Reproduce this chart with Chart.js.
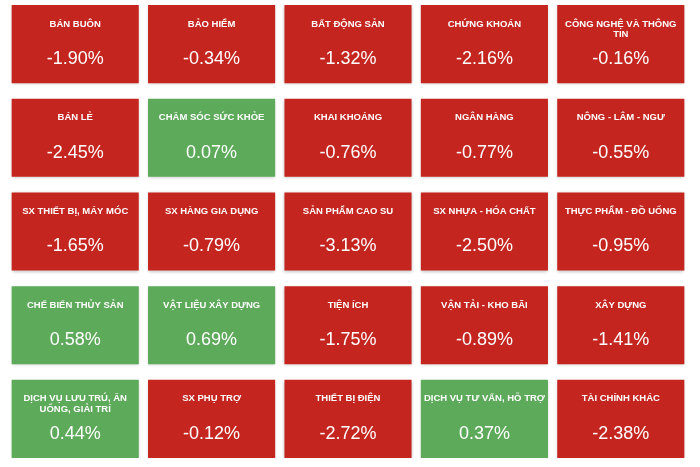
<!DOCTYPE html>
<html>
<head>
<meta charset="utf-8">
<script src="https://cdn.jsdelivr.net/npm/chart.js@4.4.0/dist/chart.umd.min.js"></script>
<style>
  html, body { margin: 0; padding: 0; background: #ffffff; }
  #wrap { width: 700px; height: 467px; }
</style>
</head>
<body>
<div id="wrap"><canvas id="heat"></canvas></div>
<script>
// sectors, row by row (5 per row); "\n" marks where the title wraps
const sectors = [
  ["BÁN BUÔN", "BẢO HIỂM", "BẤT ĐỘNG SẢN", "CHỨNG KHOÁN", "CÔNG NGHỆ VÀ THÔNG\nTIN"],
  ["BÁN LẺ", "CHĂM SÓC SỨC KHỎE", "KHAI KHOÁNG", "NGÂN HÀNG", "NÔNG - LÂM - NGƯ"],
  ["SX THIẾT BỊ, MÁY MÓC", "SX HÀNG GIA DỤNG", "SẢN PHẨM CAO SU", "SX NHỰA - HÓA CHẤT", "THỰC PHẨM - ĐỒ UỐNG"],
  ["CHẾ BIẾN THỦY SẢN", "VẬT LIỆU XÂY DỰNG", "TIỆN ÍCH", "VẬN TẢI - KHO BÃI", "XÂY DỰNG"],
  ["DỊCH VỤ LƯU TRÚ, ĂN\nUỐNG, GIẢI TRÍ", "SX PHỤ TRỢ", "THIẾT BỊ ĐIỆN", "DỊCH VỤ TƯ VẤN, HỖ TRỢ", "TÀI CHÍNH KHÁC"]
];
// % change
const changes = [
  [-1.90, -0.34, -1.32, -2.16, -0.16],
  [-2.45, 0.07, -0.76, -0.77, -0.55],
  [-1.65, -0.79, -3.13, -2.50, -0.95],
  [0.58, 0.69, -1.75, -0.89, -1.41],
  [0.44, -0.12, -2.72, 0.37, -2.38]
];
const columns = ["c1", "c2", "c3", "c4", "c5"];

const RED = "#c4251f";
const GREEN = "#5daa5a";
const TILE_H = 0.834;

const datasets = changes.map(function (row, r) {
  return {
    label: "row" + (r + 1),
    data: row.map(function () { return [r, r + TILE_H]; }),
    backgroundColor: row.map(function (v) { return v >= 0 ? GREEN : RED; }),
    borderWidth: 0,
    borderSkipped: false,
    grouped: false,
    categoryPercentage: 1,
    barPercentage: 0.932
  };
});

const shadowPlugin = {
  id: "tileShadow",
  beforeDatasetsDraw(chart) {
    const ctx = chart.ctx;
    ctx.save();
    ctx.shadowColor = "rgba(0,0,0,0.22)";
    ctx.shadowBlur = 3;
    ctx.shadowOffsetY = 1;
  },
  afterDatasetsDraw(chart) {
    chart.ctx.restore();
  }
};

const textPlugin = {
  id: "tileText",
  afterDatasetsDraw(chart) {
    const ctx = chart.ctx;
    ctx.save();
    ctx.fillStyle = "#ffffff";
    ctx.textAlign = "center";
    ctx.textBaseline = "middle";
    chart.data.datasets.forEach(function (ds, r) {
      chart.getDatasetMeta(r).data.forEach(function (bar, c) {
        const top = Math.min(bar.y, bar.base);
        const lines = sectors[r][c].split("\n");
        ctx.font = "bold 9.5px 'Liberation Sans', Arial, sans-serif";
        lines.forEach(function (ln, i) {
          ctx.fillText(ln, bar.x, top + 19 + i * 10.5);
        });
        ctx.font = "18px 'Liberation Sans', Arial, sans-serif";
        ctx.fillText(changes[r][c].toFixed(2) + "%", bar.x, top + 54);
      });
    });
    ctx.restore();
  }
};

new Chart("heat", {
  type: "bar",
  data: { labels: columns, datasets: datasets },
  options: {
    responsive: true,
    maintainAspectRatio: false,
    animation: false,
    layout: { padding: { top: 5, bottom: 9, left: 7, right: 11 } },
    plugins: { legend: { display: false }, tooltip: { enabled: false } },
    scales: {
      x: { display: false, grid: { display: false } },
      y: { display: false, reverse: true, min: 0, max: 4 + TILE_H, grid: { display: false } }
    }
  },
  plugins: [shadowPlugin, textPlugin]
});
</script>
</body>
</html>
